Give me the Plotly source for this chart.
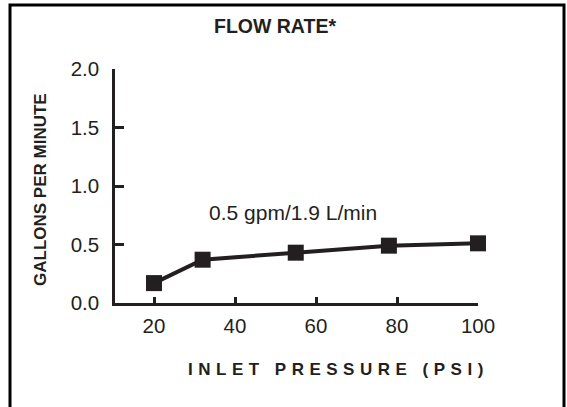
import plotly.graph_objects as go

pressure_psi = [20, 32, 55, 78, 100]
flow_gpm = [0.17, 0.37, 0.43, 0.49, 0.51]
x_ticks = [20, 40, 60, 80, 100]
y_ticks = [0.0, 0.5, 1.0, 1.5, 2.0]
y_tick_labels = ["0.0", "0.5", "1.0", "1.5", "2.0"]

INK = "#231f20"
FONT = "Liberation Sans, Arial, Helvetica, sans-serif"

fig = go.Figure()
fig.add_trace(go.Scatter(
    x=pressure_psi, y=flow_gpm, mode="lines+markers",
    line=dict(color=INK, width=4),
    marker=dict(symbol="square", size=16, color=INK),
    cliponaxis=False, showlegend=False, hoverinfo="x+y",
))

fig.update_layout(
    width=567, height=407,
    margin=dict(l=115, r=89, t=69, b=104),
    paper_bgcolor="white", plot_bgcolor="white",
    font=dict(family=FONT, color=INK, size=20),
    title=dict(text="<b>FLOW RATE*</b>", x=275 / 567, xanchor="center",
               y=1 - 26 / 407, yanchor="middle", font=dict(size=19.5, color=INK)),
    xaxis=dict(range=[10.37, 100], tickvals=x_ticks, ticks="inside", ticklen=6,
               tickwidth=2.5, tickcolor=INK, showline=True, linecolor=INK, linewidth=2.5,
               showgrid=False, zeroline=False, tickfont=dict(size=20.5, color=INK),
               ticklabelstandoff=3),
    yaxis=dict(range=[0, 2], tickvals=y_ticks, ticktext=y_tick_labels, ticks="inside",
               ticklen=9, tickwidth=2.5, tickcolor=INK, showline=True, linecolor=INK,
               linewidth=2.5, showgrid=False, zeroline=False, tickfont=dict(size=20.5, color=INK),
               ticklabelstandoff=9),
)

fig.add_annotation(text="0.5 gpm/1.9 L/min", x=54.4, y=0.77, xref="x", yref="y",
                   showarrow=False, font=dict(size=21, color=INK))
fig.add_annotation(text="<b>INLET PRESSURE (PSI)</b>", x=(338 - 115) / 363, y=(303 - 370) / 234,
                   xref="paper", yref="paper", showarrow=False, xanchor="center", yanchor="middle",
                   font=dict(size=17, color=INK))
fig.add_annotation(text="<b>GALLONS PER MINUTE</b>", x=(40 - 115) / 363, y=(303 - 190) / 234,
                   xref="paper", yref="paper", showarrow=False, textangle=-90,
                   xanchor="center", yanchor="middle", font=dict(size=17, color=INK))

fig.add_shape(type="rect", xref="paper", yref="paper",
              x0=(10 - 115) / 363, x1=(564 - 115) / 363,
              y0=(303 - 412) / 234, y1=(303 - 5) / 234,
              line=dict(color="black", width=3), layer="below")

post = """
document.body.style.margin = '0';
document.body.style.overflow = 'hidden';
var gd = document.getElementById('{plot_id}');
function ls(){
  gd.querySelectorAll('.annotation-text').forEach(function(t){
    if (t.textContent.indexOf('INLET') === 0) { t.style.letterSpacing = '5.5px'; }
  });
}
ls();
gd.on('plotly_afterplot', ls);
"""
fig.write_html("out.html", post_script=post, config={"displayModeBar": False})
